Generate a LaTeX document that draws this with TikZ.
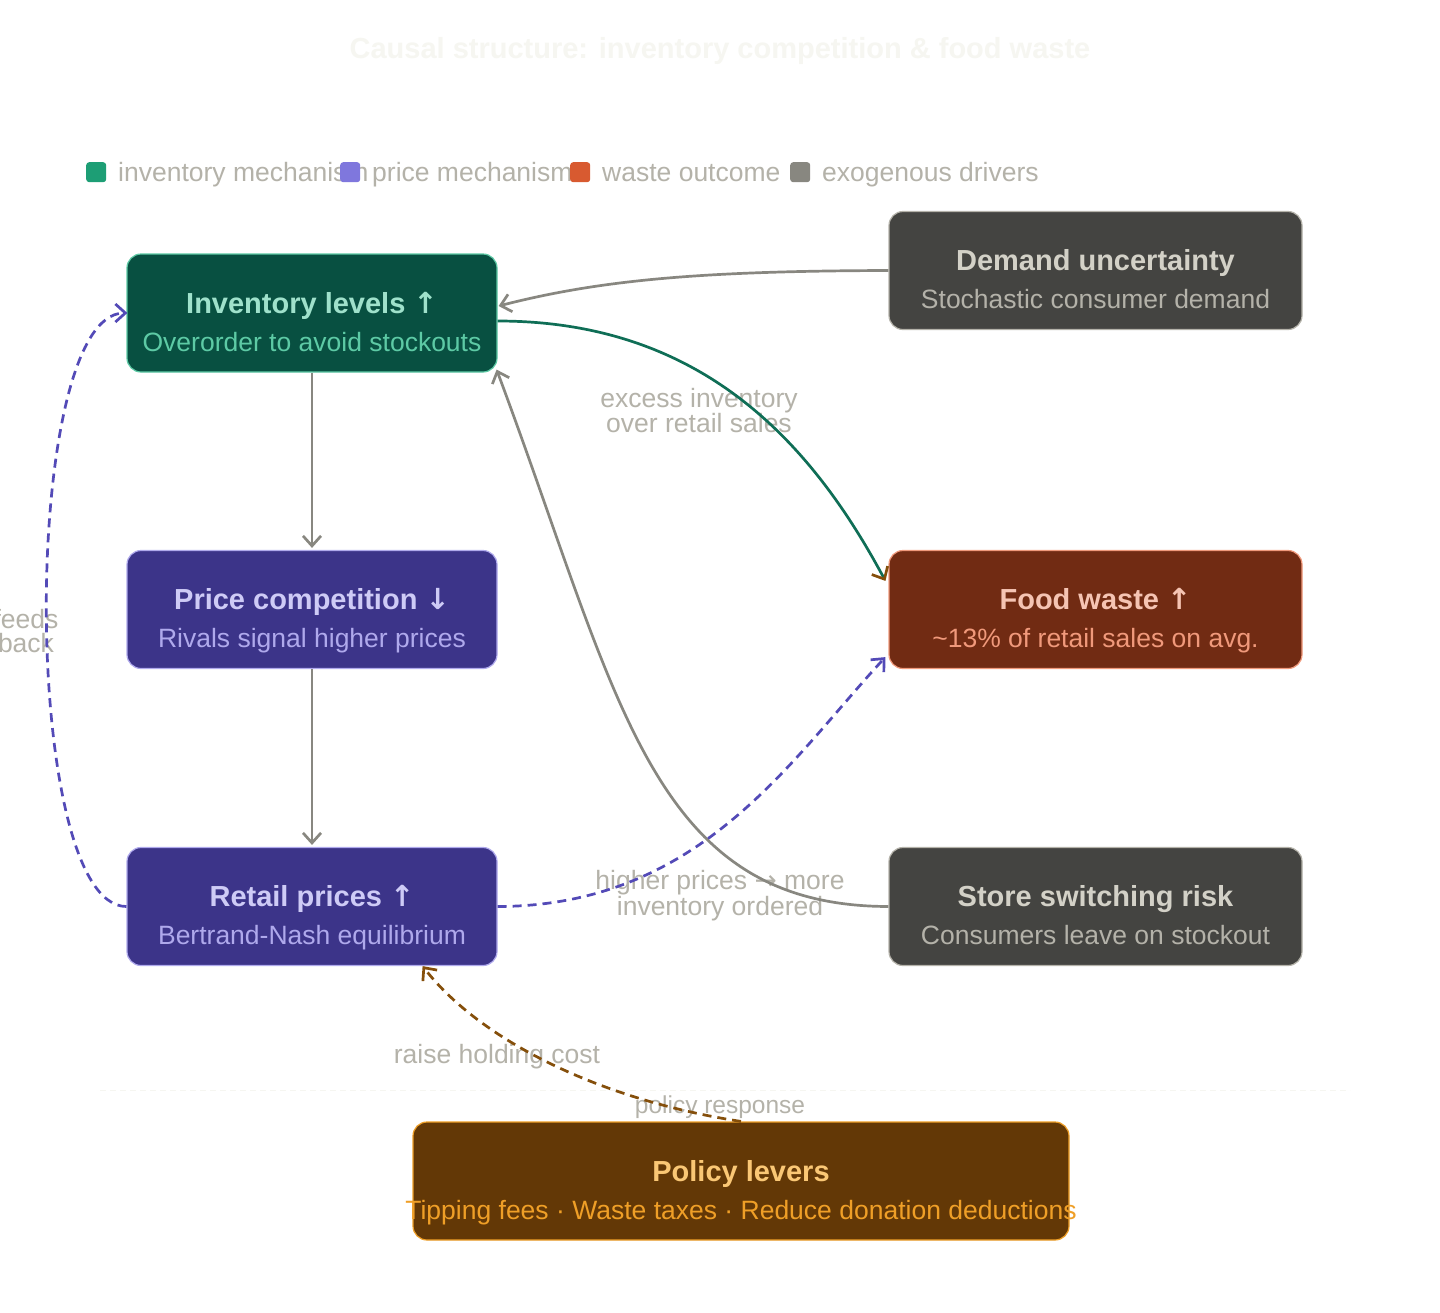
\documentclass[tikz,border=0pt]{standalone}
\usepackage{fontspec}
\setmainfont{Liberation Sans}
\newfontfamily\arrowfont{DejaVu Sans}
\usetikzlibrary{arrows.meta,calc}
\definecolor{lgGreen}{HTML}{1D9E75}
\definecolor{lgPurple}{HTML}{7F77DD}
\definecolor{lgRed}{HTML}{D85A30}
\definecolor{lgGray}{HTML}{888780}
\definecolor{txtGray}{HTML}{B4B2A9}
\definecolor{titleFaint}{HTML}{F6F6F1}
\definecolor{invFill}{HTML}{085041}
\definecolor{invLine}{HTML}{5DCAA5}
\definecolor{invTitle}{HTML}{9FE1CB}
\definecolor{purFill}{HTML}{3C3489}
\definecolor{purLine}{HTML}{AFA9EC}
\definecolor{purTitle}{HTML}{CECBF6}
\definecolor{wstFill}{HTML}{712B13}
\definecolor{wstLine}{HTML}{F0997B}
\definecolor{wstTitle}{HTML}{F5C4B3}
\definecolor{exoFill}{HTML}{444441}
\definecolor{exoLine}{HTML}{B4B2A9}
\definecolor{exoTitle}{HTML}{D3D1C7}
\definecolor{polFill}{HTML}{633806}
\definecolor{polLine}{HTML}{EF9F27}
\definecolor{polTitle}{HTML}{FAC775}
\definecolor{edgeGray}{HTML}{888780}
\definecolor{edgeGreen}{HTML}{0F6E56}
\definecolor{edgePurple}{HTML}{534AB7}
\definecolor{edgeBrown}{HTML}{854F0B}
\newcommand{\upar}{{\arrowfont\bfseries ↑}}
\newcommand{\dnar}{{\arrowfont\bfseries ↓}}
\newcommand{\rtar}{{\arrowfont →}}
\tikzset{
  box/.style={rounded corners=14pt, line width=1.2pt, minimum height=118pt, inner sep=0pt},
  narrowbox/.style={box, minimum width=370pt},
  widebox/.style={box, minimum width=413pt},
  ttl/.style={anchor=base, inner sep=0pt, font=\fontsize{29}{34}\selectfont\bfseries},
  sub/.style={anchor=base, inner sep=0pt, font=\fontsize{26.5}{30}\selectfont},
  lgtext/.style={anchor=base west, inner sep=0pt, text=txtGray, font=\fontsize{26.5}{30}\selectfont},
  lgsq/.style={rounded corners=3pt, minimum width=20pt, minimum height=20pt, inner sep=0pt, anchor=north west},
  elabel/.style={anchor=base, inner sep=0pt, text=txtGray, font=\fontsize{26.5}{30}\selectfont},
  tip/.style={-{Straight Barb[length=10pt,width=18pt,line width=2.7pt]}},
  conn/.style={line width=2.7pt, tip},
  dashconn/.style={conn, dash pattern=on 9pt off 6pt},
}
\begin{document}
\begin{tikzpicture}[x=1pt,y=-1pt]
\useasboundingbox[fill=white] (0,0) rectangle (1440,1312);

% title
\node[anchor=base, inner sep=0pt, text=titleFaint, font=\fontsize{29}{33}\selectfont\bfseries] (title) at (720,58) {Causal structure: inventory competition \& food waste};

% faint separator
\draw[titleFaint, line width=1pt, dash pattern=on 6pt off 4pt] (100,1090) -- (1350,1090);

% legend
\node[lgsq, fill=lgGreen] (sq1) at (86,162) {};
\node[lgtext] (lg1) at (118,181) {inventory mechanism};
\node[lgsq, fill=lgPurple] (sq2) at (340,162) {};
\node[lgtext] (lg2) at (372,181) {price mechanism};
\node[lgsq, fill=lgRed] (sq3) at (570,162) {};
\node[lgtext] (lg3) at (602,181) {waste outcome};
\node[lgsq, fill=lgGray] (sq4) at (790,162) {};
\node[lgtext] (lg4) at (822,181) {exogenous drivers};

% boxes
\node[narrowbox, fill=invFill, draw=invLine] (inv) at (312,313) {};
\node[ttl, text=invTitle] (inv-t) at ($(inv.center)+(0,0)$) {Inventory levels \upar};
\node[sub, text=invLine] (inv-s) at ($(inv.center)+(0,38)$) {Overorder to avoid stockouts};

\node[narrowbox, fill=purFill, draw=purLine] (pc) at (312,609.5) {};
\node[ttl, text=purTitle] (pc-t) at ($(pc.center)+(0,0)$) {Price competition \dnar};
\node[sub, text=purLine] (pc-s) at ($(pc.center)+(0,38)$) {Rivals signal higher prices};

\node[narrowbox, fill=purFill, draw=purLine] (rp) at (312,906.5) {};
\node[ttl, text=purTitle] (rp-t) at ($(rp.center)+(0,0)$) {Retail prices \upar};
\node[sub, text=purLine] (rp-s) at ($(rp.center)+(0,38)$) {Bertrand-Nash equilibrium};

\node[widebox, fill=exoFill, draw=exoLine] (dem) at (1095.5,270.5) {};
\node[ttl, text=exoTitle] (dem-t) at ($(dem.center)+(0,0)$) {Demand uncertainty};
\node[sub, text=exoLine] (dem-s) at ($(dem.center)+(0,38)$) {Stochastic consumer demand};

\node[widebox, fill=wstFill, draw=wstLine] (fw) at (1095.5,609.5) {};
\node[ttl, text=wstTitle] (fw-t) at ($(fw.center)+(0,0)$) {Food waste \upar};
\node[sub, text=wstLine] (fw-s) at ($(fw.center)+(0,38)$) {\char"007E 13\% of retail sales on avg.};

\node[widebox, fill=exoFill, draw=exoLine] (ss) at (1095.5,906.5) {};
\node[ttl, text=exoTitle] (ss-t) at ($(ss.center)+(0,0)$) {Store switching risk};
\node[sub, text=exoLine] (ss-s) at ($(ss.center)+(0,38)$) {Consumers leave on stockout};

\node[box, minimum width=656pt, fill=polFill, draw=polLine] (pol) at (741,1181) {};
\node[ttl, text=polTitle] (pol-t) at ($(pol.center)+(0,0)$) {Policy levers};
\node[sub, text=polLine] (pol-s) at ($(pol.center)+(0,38)$) {Tipping fees · Waste taxes · Reduce donation deductions};

% edge labels
\node[elabel] (l-exc1) at (699,407) {excess inventory};
\node[elabel] (l-exc2) at (699,432) {over retail sales};
\node[elabel] (l-hp1) at (720,889) {higher prices \rtar\ more};
\node[elabel] (l-hp2) at (720,915) {inventory ordered};
\node[elabel] (l-fb1) at (26,628) {feeds};
\node[elabel] (l-fb2) at (26,652) {back};
\node[elabel] (l-rh) at (497,1063) {raise holding cost};
\node[elabel, font=\fontsize{24.5}{28}\selectfont] (l-pr) at (720,1113) {policy response};

% connectors
\draw[conn, edgeGray, shorten >=2pt] (inv.south) -- (pc.north);
\draw[conn, edgeGray, shorten >=2pt] (pc.south) -- (rp.north);
\draw[conn, edgeGray] (dem.west) .. controls (700,271) and (600,280) .. ($(inv.east)+(1,-7)$);
\draw[line width=2.7pt, edgeGreen, -{Straight Barb[length=10pt,width=18pt,line width=2.7pt,color=edgeBrown]}]
  ($(inv.east)+(0,8)$) .. controls (700,321) and (810,440) .. ($(fw.north west)+(-3,31)$);
\draw[conn, edgeGray] (ss.west) .. controls (650,906) and (620,700) .. ($(inv.south east)+(-1,-3)$);
\draw[dashconn, edgePurple] (rp.east) .. controls (700,906) and (790,760) .. ($(fw.south west)+(-3,-12)$);
\draw[dashconn, edgePurple] (rp.west) .. controls (20,906) and (20,313) .. ($(inv.west)+(1,0)$);
\draw[dashconn, edgeBrown] (pol.north) .. controls (600,1100) and (480,1040) .. ($(rp.south east)+(-75,0)$);
\end{tikzpicture}
\end{document}
